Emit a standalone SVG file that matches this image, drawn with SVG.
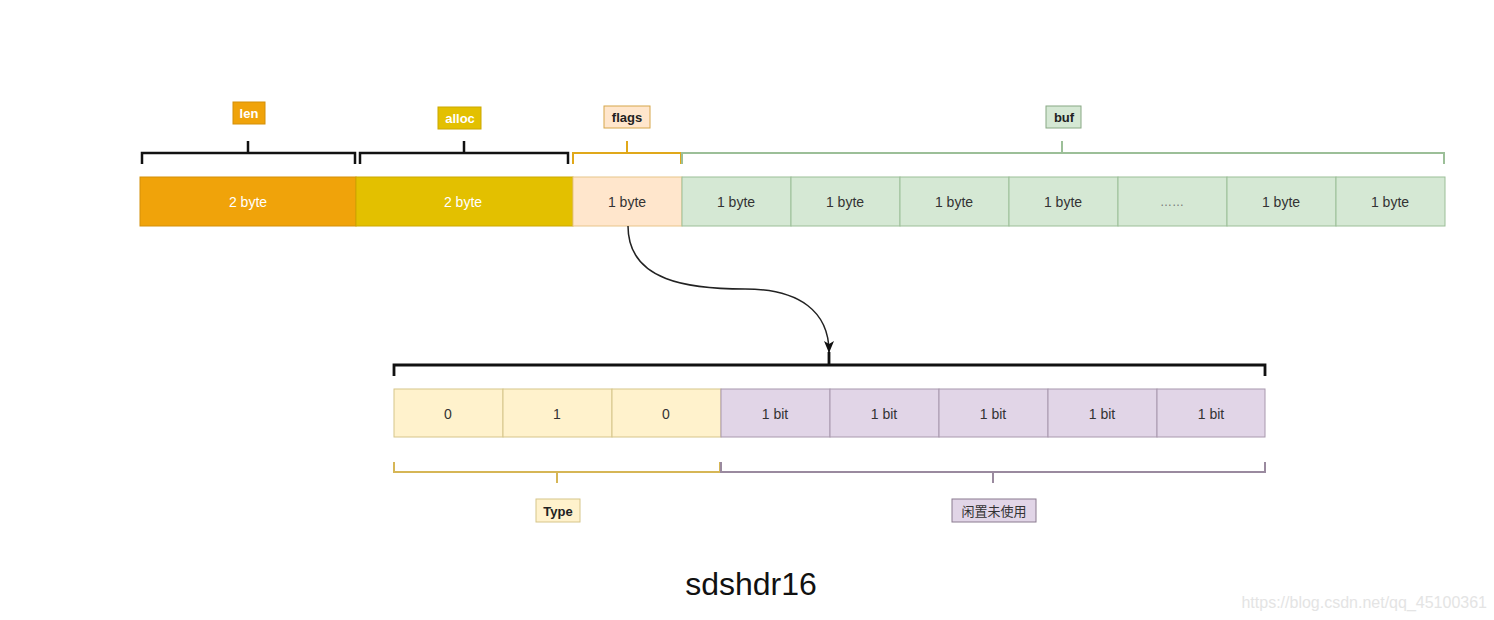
<svg xmlns="http://www.w3.org/2000/svg" width="1494" height="620" viewBox="0 0 1494 620">
<defs>
<style>
.t{font-family:"Liberation Sans",Arial,sans-serif;font-size:14px;text-anchor:middle;dominant-baseline:central}
.w{fill:#ffffff}
.d{fill:#333333}
.b{font-weight:bold;font-size:13px}
.br{fill:none;stroke-linecap:butt;stroke-linejoin:miter}
</style>
<marker id="ah" viewBox="0 0 12 10" refX="11" refY="5" markerWidth="12" markerHeight="10" orient="auto" markerUnits="userSpaceOnUse">
<path d="M0,0 L12,5 L0,10 L3,5 Z" fill="#111"/>
</marker>
</defs>
<rect width="1494" height="620" fill="#ffffff"/>

<g id="top-row">
<g id="len-cell"><rect x="140" y="177" width="216" height="49" fill="#f0a30a" stroke="#d48f08"/><text class="t w" x="248" y="202">2 byte</text></g>
<g id="alloc-cell"><rect x="356" y="177" width="217" height="49" fill="#e3c000" stroke="#cca800"/><text class="t w" x="463" y="202">2 byte</text></g>
<g id="flags-cell"><rect x="573" y="177" width="109" height="49" fill="#ffe6cc" stroke="#e8c58a"/><text class="t d" x="627" y="202">1 byte</text></g>
<g id="buf-1"><rect x="682" y="177" width="109" height="49" fill="#d5e8d4" stroke="#9cbf98"/><text class="t d" x="736" y="202">1 byte</text></g>
<g id="buf-2"><rect x="791" y="177" width="109" height="49" fill="#d5e8d4" stroke="#9cbf98"/><text class="t d" x="845" y="202">1 byte</text></g>
<g id="buf-3"><rect x="900" y="177" width="109" height="49" fill="#d5e8d4" stroke="#9cbf98"/><text class="t d" x="954" y="202">1 byte</text></g>
<g id="buf-4"><rect x="1009" y="177" width="109" height="49" fill="#d5e8d4" stroke="#9cbf98"/><text class="t d" x="1063" y="202">1 byte</text></g>
<g id="buf-5"><rect x="1118" y="177" width="109" height="49" fill="#d5e8d4" stroke="#9cbf98"/><text class="t d" x="1172" y="202" style="font-size:12px;fill:#777">……</text></g>
<g id="buf-6"><rect x="1227" y="177" width="109" height="49" fill="#d5e8d4" stroke="#9cbf98"/><text class="t d" x="1281" y="202">1 byte</text></g>
<g id="buf-7"><rect x="1336" y="177" width="109" height="49" fill="#d5e8d4" stroke="#9cbf98"/><text class="t d" x="1390" y="202">1 byte</text></g>
</g>

<g id="top-labels">
<g id="len-label"><rect x="233" y="102" width="32" height="22" fill="#f0a30a" stroke="#d48f08"/><text class="t w b" x="249" y="113">len</text></g>
<g id="alloc-label"><rect x="438" y="107" width="43" height="22" fill="#e3c000" stroke="#cca800"/><text class="t w b" x="460" y="118">alloc</text></g>
<g id="flags-label"><rect x="604" y="106" width="46" height="22" fill="#ffe6cc" stroke="#d6a64a"/><text class="t b" x="627" y="117" fill="#222">flags</text></g>
<g id="buf-label"><rect x="1046" y="106" width="35" height="22" fill="#d5e8d4" stroke="#88a884"/><text class="t b" x="1064" y="117" fill="#222">buf</text></g>
</g>

<g id="bottom-row">
<g id="type-0"><rect x="394" y="389" width="109" height="48" fill="#fff2cc" stroke="#d6c58a"/><text class="t d" x="448" y="414">0</text></g>
<g id="type-1"><rect x="503" y="389" width="109" height="48" fill="#fff2cc" stroke="#d6c58a"/><text class="t d" x="557" y="414">1</text></g>
<g id="type-2"><rect x="612" y="389" width="109" height="48" fill="#fff2cc" stroke="#d6c58a"/><text class="t d" x="666" y="414">0</text></g>
<g id="bit-1"><rect x="721" y="389" width="109" height="48" fill="#e1d5e7" stroke="#a898ad"/><text class="t d" x="775" y="414">1 bit</text></g>
<g id="bit-2"><rect x="830" y="389" width="109" height="48" fill="#e1d5e7" stroke="#a898ad"/><text class="t d" x="884" y="414">1 bit</text></g>
<g id="bit-3"><rect x="939" y="389" width="109" height="48" fill="#e1d5e7" stroke="#a898ad"/><text class="t d" x="993" y="414">1 bit</text></g>
<g id="bit-4"><rect x="1048" y="389" width="109" height="48" fill="#e1d5e7" stroke="#a898ad"/><text class="t d" x="1102" y="414">1 bit</text></g>
<g id="bit-5"><rect x="1157" y="389" width="108" height="48" fill="#e1d5e7" stroke="#a898ad"/><text class="t d" x="1211" y="414">1 bit</text></g>
</g>

<g id="bottom-labels">
<g id="type-label"><rect x="536" y="499" width="44" height="23" fill="#fff2cc" stroke="#d6c58a"/><text class="t b" x="558" y="511" fill="#222">Type</text></g>
<g id="unused-label"><rect x="952" y="499" width="84" height="23" fill="#e1d5e7" stroke="#8a7a8f"/><text class="t" x="994" y="511" fill="#333" style="font-family:'Liberation Sans','Noto Sans CJK SC',sans-serif;font-size:13px">闲置未使用</text></g>
</g>

<g id="connectors">
<path class="br" d="M142,164 V153 H355 V164 M248,153 V141" stroke="#111" stroke-width="2.5"/>
<path class="br" d="M360,164 V153 H568 V164 M464,153 V141" stroke="#111" stroke-width="2.5"/>
<path class="br" d="M573,164 V153 H681 V164 M627,153 V141" stroke="#e0a81a" stroke-width="2"/>
<path class="br" d="M682,164 V153 H1444 V164 M1062,153 V141" stroke="#9cbf98" stroke-width="2"/>
<path class="br" d="M394,376 V365 H1265 V376 M829,365 V352" stroke="#111" stroke-width="2.8"/>
<path class="br" d="M394,462 V472 H720 V462 M557,472 V483" stroke="#d6b656" stroke-width="2"/>
<path class="br" d="M721,462 V472 H1265 V462 M993,472 V483" stroke="#9a8a9f" stroke-width="2"/>
<path d="M628,226 C628,282 690,289 745,289 C800,289 829,312 829,352" fill="none" stroke="#222" stroke-width="1.5" marker-end="url(#ah)"/>
</g>

<text x="751" y="595" style="font-family:'Liberation Sans',Arial,sans-serif;font-size:32px" text-anchor="middle" fill="#111">sdshdr16</text>
<text x="1487" y="608" style="font-family:'Liberation Sans',Arial,sans-serif;font-size:16px" text-anchor="end" fill="#e4e4e4">https://blog.csdn.net/qq_45100361</text>
</svg>
